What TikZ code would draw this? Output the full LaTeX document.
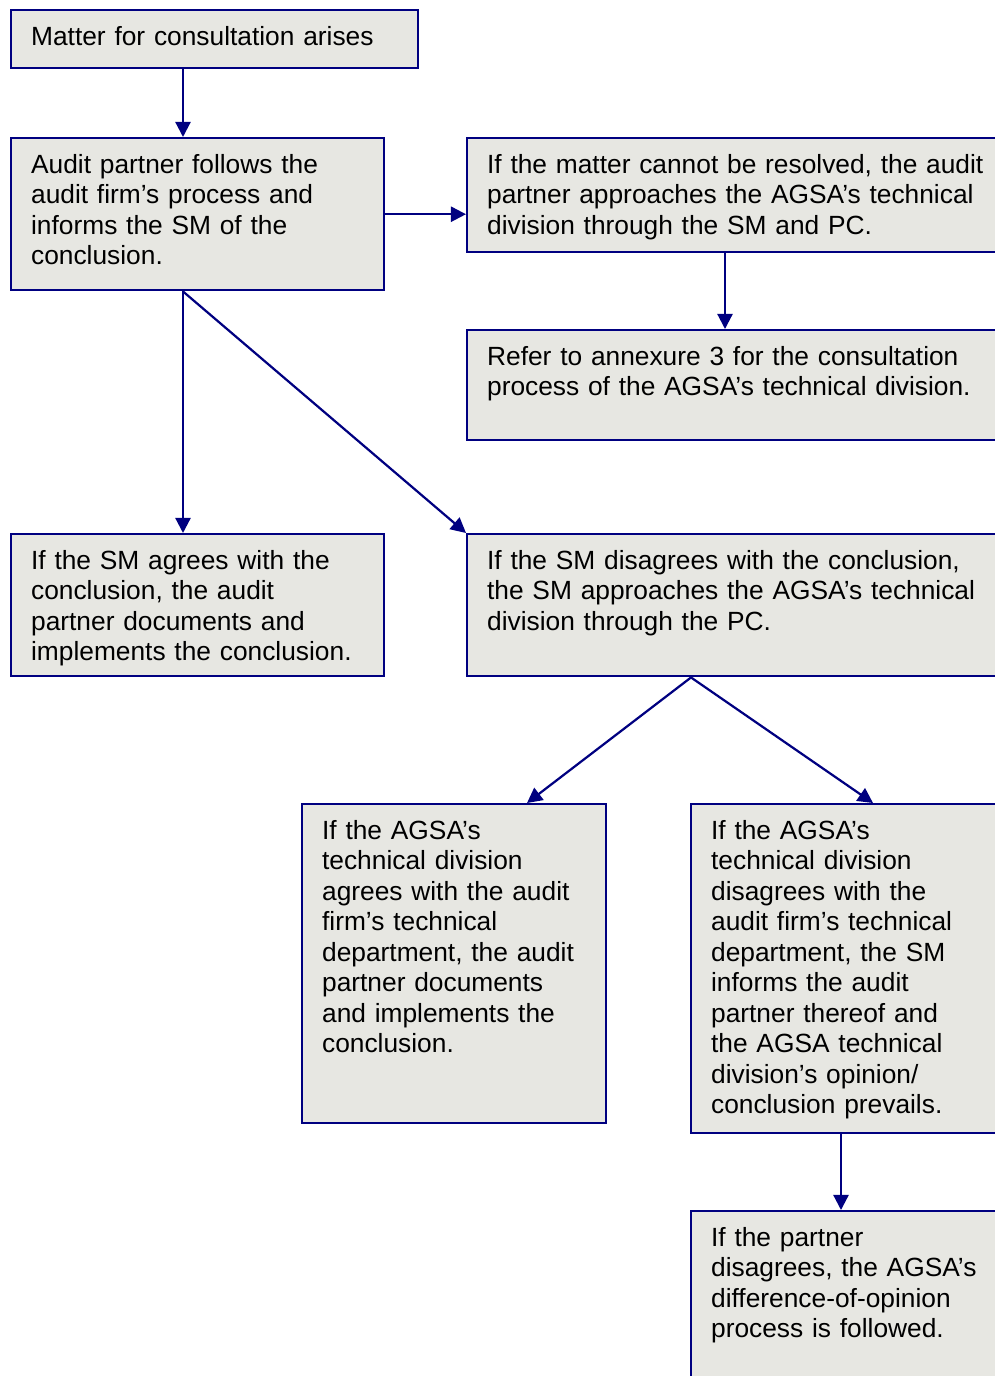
\documentclass[tikz,border=0pt]{standalone}
\usepackage{fontspec}
\setmainfont{Liberation Sans}
\usetikzlibrary{arrows.meta}
\definecolor{boxline}{RGB}{0,0,128}
\definecolor{boxfill}{RGB}{231,231,226}

\begin{document}
\begin{tikzpicture}[
  x=0.45pt, y=-0.45pt,
  box/.style={draw=boxline,fill=boxfill,line width=1pt,anchor=north west,
              align=left,inner xsep=9pt,inner ysep=7pt,text height=8.8pt,
              font=\fontsize{11.85}{13.72}\selectfont},
  arr/.style={-{Triangle[length=6.8pt,width=6.8pt]},draw=boxline,line width=1pt}
]
\useasboundingbox (0,0) rectangle (995,1376);
\clip (0,0) rectangle (995,1376);
\node[box,text width=165.2pt,text depth=3.4pt] (arise) at (10,9)
  {Matter for consultation arises};
\node[box,text width=149.9pt,text depth=45.7pt] (follows) at (10,137)
  {Audit partner follows the\\audit firm’s process and\\informs the SM of the\\conclusion.};
\node[box,text width=226.8pt,text depth=28.6pt] (cannot) at (466,137)
  {If the matter cannot be resolved, the audit\\partner approaches the AGSA’s technical\\division through the SM and PC.};
\node[box,text width=226.8pt,text depth=26.8pt] (annex) at (466,329)
  {Refer to annexure 3 for the consultation\\process of the AGSA’s technical division.};
\node[box,text width=149.9pt,text depth=41.2pt] (smagree) at (10,533)
  {If the SM agrees with the\\conclusion, the audit\\partner documents and\\implements the conclusion.};
\node[box,text width=226.8pt,text depth=41.2pt] (smdis) at (466,533)
  {If the SM disagrees with the conclusion,\\the SM approaches the AGSA’s technical\\division through the PC.};
\node[box,text width=118.8pt,text depth=120.8pt] (tdagree) at (301,803)
  {If the AGSA’s\\technical division\\agrees with the audit\\firm’s technical\\department, the audit\\partner documents\\and implements the\\conclusion.};
\node[box,text width=126pt,text depth=125.3pt] (tddis) at (690,803)
  {If the AGSA’s\\technical division\\disagrees with the\\audit firm’s technical\\department, the SM\\informs the audit\\partner thereof and\\the AGSA technical\\division’s opinion/\\conclusion prevails.};
\node[box,text width=126pt,text depth=61.9pt] (ptdis) at (690,1210)
  {If the partner\\disagrees, the AGSA’s\\difference-of-opinion\\process is followed.};
% arrow columns
\coordinate (leftcol) at (183,0);
\coordinate (annexcol) at (725,0);
\coordinate (splitcol) at (691,0);
\coordinate (agreecol) at (527,0);
\coordinate (discol) at (873,0);
\coordinate (partnercol) at (841,0);
\draw[arr] (arise.south -| leftcol) -- (follows.north -| leftcol);
\draw[arr] (follows.east) -- (follows.east -| cannot.west);
\draw[arr] (cannot.south -| annexcol) -- (annex.north -| annexcol);
\draw[arr] (follows.south -| leftcol) -- (smagree.north -| leftcol);
\draw[arr] (follows.south -| leftcol) -- (smdis.north west);
\draw[arr] (smdis.south -| splitcol) -- (tdagree.north -| agreecol);
\draw[arr] (smdis.south -| splitcol) -- (tddis.north -| discol);
\draw[arr] (tddis.south -| partnercol) -- (ptdis.north -| partnercol);
\end{tikzpicture}
\end{document}
